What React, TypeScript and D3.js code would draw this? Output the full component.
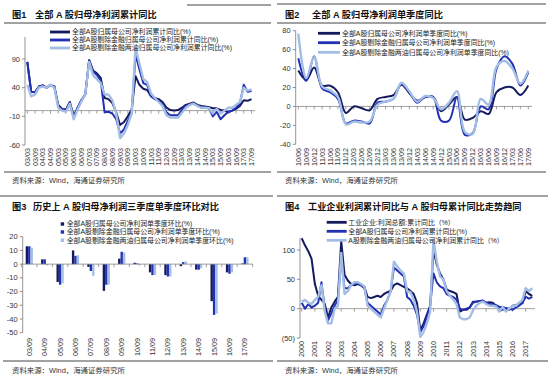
import React from "react";
import * as d3 from "d3";

// ---------- Panel 1 data (quarterly 2003Q1 - 2017Q3) ----------
const p1Labels = ["03/03","03/09","04/03","04/09","05/03","05/09","06/03","06/09","07/03","07/09","08/03","08/09","09/03","09/09","10/03","10/09","11/03","11/09","12/03","12/09","13/03","13/09","14/03","14/09","15/03","15/09","16/03","16/09","17/03","17/09"];
const p1All = [85,33,32,42,44,40,44,42,10,3,2,15,-10,5,18,28,88,70,65,57,22,20,13,-3,-25,-20,-10,2,60,45,38,36,25,22,20,15,5,1,0,1,5,10,12,14,10,8,7,6,4,4,1,0,-3,0,3,8,18,17,20];
const p1ExFin = [85,33,32,42,44,40,45,42,8,2,0,14,-12,4,18,28,88,68,62,52,-3,-2,-5,-15,-40,-33,-18,-5,98,72,48,45,25,20,17,10,-3,-8,-8,-8,1,8,10,13,9,5,5,4,-10,-2,-15,-8,-2,0,5,12,45,33,34];
const p1ExFinOil = [45,25,28,40,42,40,45,40,5,0,-2,12,-15,2,16,28,85,62,55,48,28,28,18,-5,-48,-40,-25,-5,110,82,55,50,30,22,15,8,-8,-12,-12,-12,-4,5,10,12,8,5,5,4,-5,3,-5,0,5,5,10,15,40,35,37];
const p1Ticks = [-60,-10,40,90];
const p1Legend = ["全部A股归属母公司净利润累计同比(%)","全部A股剔除金融归属母公司净利润累计同比(%)","全部A股剔除金融两油归属母公司净利润累计同比(%)"];

// ---------- Panel 2 data (quarterly 2010Q2 - 2017Q3) ----------
const p2Labels = ["10/06","10/09","10/12","11/03","11/06","11/09","11/12","12/03","12/06","12/09","12/12","13/03","13/06","13/09","13/12","14/03","14/06","14/09","14/12","15/03","15/06","15/09","15/12","16/03","16/06","16/09","16/12","17/03","17/06","17/09"];
const p2All = [38,28,41,22,22,15,-7,0,-2,-4,8,10,12,23,14,6,10,10,-5,2,10,-14,-12,-5,-8,15,20,20,12,22];
const p2ExFin = [51,27,53,19,15,8,-18,-15,-16,-18,4,5,8,24,15,4,10,10,-15,-15,10,-30,-28,0,-3,40,53,45,22,36];
const p2ExFinOil = [77,30,52,21,17,10,-19,-16,-17,-16,2,5,8,25,16,5,11,9,-3,4,16,-27,-29,8,2,42,48,40,24,38];
const p2Ticks = [-40,-20,0,20,40,60,80];
const p2Legend = ["全部A股归属母公司净利润单季度同比(%)","全部A股剔除金融归属母公司净利润单季度同比(%)","全部A股剔除金融两油归属母公司净利润单季度同比(%)"];

// ---------- Panel 3 data (Q3 single quarter QoQ) ----------
const p3Labels = ["03/09","04/09","05/09","06/09","07/09","08/09","09/09","10/09","11/09","12/09","13/09","14/09","15/09","16/09","17/09"];
const p3All = [13,3.5,-13,10,-2,-19.5,4,1,-6,-8,-1.5,-4,-27,-6,0.5];
const p3ExFin = [13,3.5,-15,6,-5,-15,9,0.5,-8,-9,1.5,-4,-37,-7,5];
const p3ExFinOil = [12,-1,-14,6.5,-8.5,-15,8.5,-1,-8,-9,2,-3,-36,-6,5];
const p3Ticks = [-50,-40,-30,-20,-10,0,10,20];
const p3Legend = ["全部A股归属母公司净利润单季度环比(%)","全部A股剔除金融归属母公司净利润单季度环比(%)","全部A股剔除金融两油归属母公司净利润单季度环比(%)"];

// ---------- Panel 4 data (quarterly samples 2000Q1 - 2017Q3) ----------
const p4Years = ["2000","2001","2002","2003","2004","2005","2006","2007","2008","2009","2010","2011","2012","2013","2014","2015","2016","2017"];
const p4Industrial = [120,108,98,85,42,22,15,8,-15,2,12,20,115,58,48,42,40,42,40,38,20,18,20,22,20,25,28,30,40,43,40,37,35,30,25,10,-37,-25,-10,5,100,75,60,50,33,30,28,25,-5,-2,-2,2,12,12,13,12,10,11,10,5,-4,-1,-2,-2,5,6,8,9,30,25,22];
const p4AShare = [10,0,8,2,5,10,45,0,-20,-8,5,15,85,35,35,40,42,45,40,35,10,5,0,-5,-10,5,15,30,70,65,60,55,20,15,5,-10,-40,-30,-15,5,60,45,38,35,25,22,20,15,0,-2,0,2,10,12,13,14,10,8,7,6,3,3,1,0,-2,2,5,10,20,17,20];
const p4ExFinOil = [12,15,10,8,15,20,40,-5,-25,-25,0,5,95,25,30,40,45,45,42,38,5,0,-5,-10,-15,0,15,30,80,72,65,60,30,28,15,-5,-48,-40,-25,-5,118,80,55,50,30,22,15,8,-15,-18,-18,-15,-3,5,10,12,8,5,5,4,-5,3,-5,0,5,5,10,15,35,30,35];
const p4Ticks = [-50,0,50,100];
const p4Legend = ["工业企业:利润总额:累计同比（%）","全部A股归属母公司净利润累计同比(%)","A股剔除金融两油归属母公司净利润累计同比（%）"];

const SOURCE = "资料来源：Wind，海通证券研究所";

const C_DARK = "#151a5e";
const C_BLUE = "#2230b4";
const C_LIGHT = "#a3bde4";
const COLORS = [C_DARK, C_BLUE, C_LIGHT];
const WIDTHS = [2, 2, 2.4];

const CJK = "'Liberation Sans', 'Noto Sans CJK SC', sans-serif";
const NUM = "'Liberation Sans', Arial, sans-serif";

function Title({ x, x2, y, num, text }: { x: number; x2: number; y: number; num: string; text: string }) {
  return (
    <g fontFamily={CJK} fontWeight="bold" fontSize={9.2} fill="#111">
      <text x={x} y={y}>{num}</text>
      <text x={x2} y={y}>{text}</text>
    </g>
  );
}

function LineLegend({ x1, x2, tx, ys, labels }: { x1: number; x2: number; tx: number; ys: number[]; labels: string[] }) {
  return (
    <g>
      {labels.map((l, i) => (
        <g key={i}>
          <line x1={x1} x2={x2} y1={ys[i]} y2={ys[i]} stroke={COLORS[i]} strokeWidth={2.8} />
          <text x={tx} y={ys[i]} dy="0.35em" fontFamily={CJK} fontSize={6.9} fill="#222">{l}</text>
        </g>
      ))}
    </g>
  );
}

function YAxis({ scale, x, ticks, top, fmt }: { scale: d3.ScaleLinear<number, number>; x: number; ticks: number[]; top: number; fmt?: (v: number) => string }) {
  const [lo] = scale.domain();
  return (
    <g>
      <line x1={x} x2={x} y1={top} y2={scale(lo)} stroke="#777" strokeWidth={0.8} />
      {ticks.map((t) => (
        <g key={t}>
          <line x1={x - 3} x2={x} y1={scale(t)} y2={scale(t)} stroke="#777" strokeWidth={0.8} />
          <text x={x - 5} y={scale(t)} dy="0.35em" textAnchor="end" fontFamily={NUM} fontSize={7.5} fill="#333">
            {fmt ? fmt(t) : String(t)}
          </text>
        </g>
      ))}
    </g>
  );
}

function XLabels({ xs, labels, y }: { xs: number[]; labels: string[]; y: number }) {
  return (
    <g>
      {labels.map((l, i) => (
        <text key={i} transform={`translate(${xs[i]},${y}) rotate(-90)`} textAnchor="end" dy="0.35em" fontFamily={NUM} fontSize={7.2} fill="#333">
          {l}
        </text>
      ))}
    </g>
  );
}

function ZeroLine({ x1, x2, y, tickXs }: { x1: number; x2: number; y: number; tickXs: number[] }) {
  return (
    <g stroke="#888" strokeWidth={0.8}>
      <line x1={x1} x2={x2} y1={y} y2={y} />
      {tickXs.map((tx, i) => (
        <line key={i} x1={tx} x2={tx} y1={y} y2={y + 3} />
      ))}
    </g>
  );
}

function Frame({ x1, x2, yTop, yBottom, srcX, srcY, topFrom }: { x1: number; x2: number; yTop: number; yBottom: number; srcX: number; srcY: number; topFrom?: number }) {
  return (
    <g>
      <line x1={topFrom ?? x1} x2={x2} y1={yTop} y2={yTop} stroke="#444" strokeWidth={1} />
      <line x1={x1} x2={x2} y1={yBottom} y2={yBottom} stroke="#444" strokeWidth={1} />
      <text x={srcX} y={srcY} fontFamily={CJK} fontSize={7.4} fill="#333">{SOURCE}</text>
    </g>
  );
}

export default function App() {
  // Panel 1 scales
  const p1x = d3.scaleLinear().domain([0, 58]).range([27.3, 251.5]);
  const p1y = d3.scaleLinear().domain([-60, 90]).range([145, 59]);
  const p1Line = d3.line<number>().x((_, i) => p1x(i)).y((v) => p1y(v));
  const p1LabelXs = p1Labels.map((_, i) => p1x(i * 2));

  // Panel 2
  const p2x = d3.scaleLinear().domain([0, 29]).range([298.3, 528.3]);
  const p2y = d3.scaleLinear().domain([-40, 80]).range([144.3, 30.7]);
  const p2Line = d3.line<number>().x((_, i) => p2x(i)).y((v) => p2y(v)).curve(d3.curveCatmullRom.alpha(0.5));
  const p2LabelXs = p2Labels.map((_, i) => p2x(i));

  // Panel 3
  const p3x = d3.scaleBand<string>().domain(p3Labels).range([21.6, 252.6]);
  const p3y = d3.scaleLinear().domain([-50, 20]).range([332.7, 236.7]);
  const barW = 2.4;
  const p3Series = [p3All, p3ExFin, p3ExFinOil];
  const p3LabelXs = p3Labels.map((l) => (p3x(l) as number) + p3x.bandwidth() / 2);

  // Panel 4
  const p4x = d3.scaleLinear().domain([2000, 2017]).range([301.7, 525.7]);
  const p4y = d3.scaleLinear().domain([-50, 100]).range([338, 250]);
  const p4Line = d3.line<number>().x((_, i) => p4x(2000 + i / 4)).y((v) => p4y(v));
  const p4LabelXs = p4Years.map((y) => p4x(+y));

  const p1Series = [p1All, p1ExFin, p1ExFinOil];
  const p2Series = [p2All, p2ExFin, p2ExFinOil];
  const p4Series = [p4Industrial, p4AShare, p4ExFinOil];
  const p3LegendYs = [224, 232, 240.3];

  return (
    <svg width={550} height={377} style={{ display: "block", position: "absolute", left: 0, top: 0, background: "#fff" }}>
      <rect width={550} height={377} fill="#fff" />

      {/* ---------- Panel 1 ---------- */}
      <Frame x1={4} x2={271} yTop={23} yBottom={172} srcX={12} srcY={183} />
      <line x1={187} x2={271} y1={5} y2={5} stroke="#444" strokeWidth={1} />
      <Title x={12} x2={35} y={17.5} num="图1" text="全部 A 股归母净利润累计同比" />
      <YAxis scale={p1y} x={25} ticks={p1Ticks} top={37} />
      <ZeroLine x1={25} x2={255} y={p1y(0)} tickXs={p1LabelXs} />
      {p1Series.map((s, i) => (
        <path key={i} d={p1Line(s) || ""} fill="none" stroke={COLORS[i]} strokeWidth={WIDTHS[i]} strokeLinejoin="round" />
      ))}
      <XLabels xs={p1LabelXs} labels={p1Labels} y={148} />
      <LineLegend x1={50} x2={70} tx={72} ys={[32, 40, 48]} labels={p1Legend} />

      {/* ---------- Panel 2 ---------- */}
      <Frame x1={277} x2={546} yTop={23} yBottom={172} srcX={285} srcY={183} />
      <line x1={277} x2={546} y1={4} y2={4} stroke="#444" strokeWidth={1} />
      <Title x={285} x2={312} y={17.5} num="图2" text="全部 A 股归母净利润单季度同比" />
      <YAxis scale={p2y} x={295.7} ticks={p2Ticks} top={30.7} />
      <ZeroLine x1={295.7} x2={532} y={p2y(0)} tickXs={p2LabelXs} />
      {p2Series.map((s, i) => (
        <path key={i} d={p2Line(s) || ""} fill="none" stroke={COLORS[i]} strokeWidth={WIDTHS[i]} strokeLinejoin="round" />
      ))}
      <XLabels xs={p2LabelXs} labels={p2Labels} y={148} />
      <LineLegend x1={318} x2={340} tx={342} ys={[33.3, 42.7, 52.3]} labels={p2Legend} />

      {/* ---------- Panel 3 ---------- */}
      <Frame x1={3} x2={273} yTop={196} yBottom={361} srcX={12} srcY={373} topFrom={0} />
      <Title x={12} x2={33} y={209.5} num="图3" text="历史上 A 股归母净利润三季度单季度环比对比" />
      <YAxis scale={p3y} x={22.7} ticks={p3Ticks} top={236.7} />
      {p3Series.map((s, si) =>
        s.map((v, i) => {
          const cx = (p3x(p3Labels[i]) as number) + p3x.bandwidth() / 2;
          const x = cx + (si - 1.5) * barW;
          const y0 = p3y(0);
          const y1 = p3y(v);
          return <rect key={`${si}-${i}`} x={x} y={Math.min(y0, y1)} width={barW} height={Math.max(0.6, Math.abs(y1 - y0))} fill={COLORS[si]} />;
        })
      )}
      <ZeroLine x1={22.7} x2={253} y={p3y(0)} tickXs={p3Labels.map((l) => p3x(l) as number).concat([252.6])} />
      <XLabels xs={p3LabelXs} labels={p3Labels} y={338} />
      <g>
        {p3Legend.map((l, i) => (
          <g key={i}>
            <rect x={60.7} y={p3LegendYs[i] - 1.7} width={3.4} height={3.4} fill={COLORS[i]} />
            <text x={66.7} y={p3LegendYs[i]} dy="0.35em" fontFamily={CJK} fontSize={6.9} fill="#222">{l}</text>
          </g>
        ))}
      </g>

      {/* ---------- Panel 4 ---------- */}
      <Frame x1={277} x2={548} yTop={196} yBottom={361} srcX={285} srcY={373} />
      <Title x={285} x2={308} y={209.5} num="图4" text="工业企业利润累计同比与 A 股归母累计同比走势趋同" />
      <YAxis scale={p4y} x={300} ticks={p4Ticks} top={238} fmt={(v) => (v < 0 ? `(${-v})` : String(v))} />
      <ZeroLine x1={300} x2={535} y={p4y(0)} tickXs={p4LabelXs} />
      {p4Series.map((s, i) => (
        <path key={i} d={p4Line(s) || ""} fill="none" stroke={COLORS[i]} strokeWidth={WIDTHS[i]} strokeLinejoin="round" />
      ))}
      <XLabels xs={p4LabelXs} labels={p4Years} y={341} />
      <LineLegend x1={326.7} x2={346.7} tx={348.3} ys={[222.3, 231.3, 240.3]} labels={p4Legend} />
    </svg>
  );
}
